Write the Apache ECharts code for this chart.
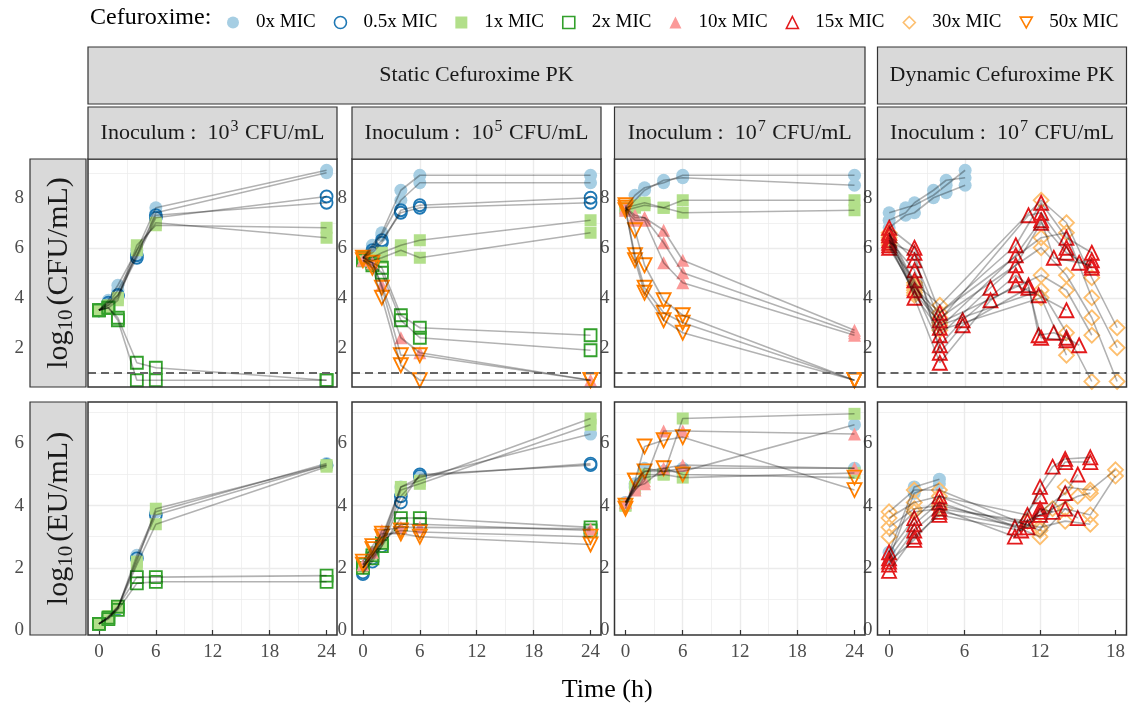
<!DOCTYPE html>
<html><head><meta charset="utf-8">
<script src="https://cdn.jsdelivr.net/npm/echarts@6/dist/echarts.min.js"></script>
<style>html,body{margin:0;padding:0;background:#fff}#c{width:1128px;height:706px}</style>
</head><body><div id="c"></div>
<script>
// ---------------- DATA ----------------
const concNames = ['0x MIC','0.5x MIC','1x MIC','2x MIC','10x MIC','15x MIC','30x MIC','50x MIC'];
const staticTimes = [0,1,2,4,6,24];
const xTicksStatic = [0,6,12,18,24];
const xTicksDynamic = [0,6,12,18];
const yTicksCfu = [2,4,6,8];
const yTicksEu = [0,2,4,6];
const loqLine = 1;

// Static, inoculum 10^3, log10 CFU/mL (one array per replicate, aligned with staticTimes)
const cfuA_0x  = [[3.5,3.9,4.5,5.9,7.6,9.1],[3.5,3.8,4.3,5.7,7.4,9.0]];
const cfuA_05x = [[3.5,3.8,4.1,5.6,7.2,8.05],[3.5,3.7,4.1,5.7,7.3,7.8]];
const cfuA_1x  = [[3.5,3.7,4.0,6.1,6.9,6.8],[3.5,3.6,3.9,5.9,7.0,6.4]];
const cfuA_2x  = [[3.5,3.6,3.2,1.4,1.2,0.7],[3.5,3.6,3.1,0.7,0.7,0.7]];
// Static, inoculum 10^5
const cfuB_0x  = [[5.6,6.1,6.6,8.3,8.9,8.9],[5.6,6.0,6.5,7.9,8.6,8.6]];
const cfuB_05x = [[5.6,5.9,6.3,7.4,7.6,7.8],[5.6,5.8,6.2,7.5,7.7,8.0]];
const cfuB_1x  = [[5.6,5.6,5.8,6.1,6.3,7.1],[5.6,5.5,5.6,5.9,5.6,6.6]];
const cfuB_2x  = [[5.6,5.4,5.2,3.3,2.8,2.5],[5.5,5.3,5.0,3.1,2.4,1.9]];
const cfuB_10x = [[5.5,5.4,4.5,2.4,1.8,0.7]];
const cfuB_50x = [[5.6,5.4,4.4,1.7,1.7,0.7],[5.5,5.2,4.0,1.3,0.7,0.7]];
// Static, inoculum 10^7
const cfuC_0x  = [[7.6,8.1,8.4,8.6,8.9,8.9],[7.5,7.9,8.3,8.7,8.8,8.5]];
const cfuC_1x  = [[7.6,7.7,7.8,7.6,7.9,7.9],[7.5,7.6,7.7,7.6,7.4,7.5]];
const cfuC_10x = [[7.6,7.2,7.2,6.7,5.5,2.7],[7.6,7.3,7.2,6.2,5.0,2.6],[7.5,7.1,7.1,5.4,4.6,2.5]];
const cfuC_50x = [[7.7,6.7,5.3,3.9,3.3,0.7],[7.5,5.7,4.4,3.4,3.0,0.7],[7.6,5.5,4.2,3.1,2.6,0.7]];
// Dynamic, inoculum 10^7 ([time, value] per replicate)
const cfuD_0x = [
  [[0,7.4],[1.3,7.6],[2,7.7],[3.5,8.1],[4.5,8.5],[6,9.1]],
  [[0,7.1],[1.3,7.4],[2,7.8],[3.5,8.3],[4.5,8.7],[6,8.8]],
  [[0,6.8],[1.3,7.3],[2,7.4],[3.5,8.0],[4.5,8.2],[6,8.5]]];
const cfuD_15x = [
  [[0,6.8],[2,6.0],[4,3.4],[10,6.1],[12,7.8],[14,6.4],[16,5.8]],
  [[0,6.5],[2,5.5],[4,3.1],[11,7.3],[12,7.4],[14,6.0],[15,5.4],[16,5.5]],
  [[0,6.3],[2,5.1],[4,2.8],[10,5.7],[12,7.1],[13,5.6],[16,5.3]],
  [[0,6.1],[2,4.7],[4,2.5],[8,4.4],[10,5.3],[12,7.0],[14,5.8],[16,5.2]],
  [[0,6.0],[2,4.3],[4,2.1],[5.8,3.1],[10,4.9],[11,4.5],[11.8,2.5],[13,2.6],[14,2.4],[15,2.1]],
  [[0,6.6],[2,4.0],[4,1.4],[8,3.9],[10,4.5],[11.8,4.1],[14,3.5]],
  [[0,6.2],[2,5.8],[4,1.8],[5.8,2.9],[11,4.4],[12,2.4],[14,2.3]]];
const cfuD_30x = [
  [[0,6.6],[2,4.6],[4,3.7],[12,7.9],[14,7.0],[16,4.8],[18,2.8]],
  [[0,6.4],[2,4.4],[4,3.4],[12,6.4],[14,6.6],[16,4.0],[18,2.0]],
  [[0,6.3],[2,4.3],[4,3.2],[12,6.0],[14,4.9],[16,3.2],[18,0.65]],
  [[0,6.1],[2,4.2],[4,3.0],[12,4.9],[14,4.3],[16,2.5]],
  [[0,6.5],[2,4.5],[4,2.9],[12,4.3],[14,2.6],[16,0.65]],
  [[0,6.2],[2,4.1],[4,2.7],[12,4.0],[14,1.7]]];

// Static, inoculum 10^3, log10 EU/mL
const euA_0x  = [[0.2,0.4,0.7,2.4,3.8,5.35]];
const euA_05x = [[0.2,0.4,0.7,2.3,3.7,5.3]];
const euA_1x  = [[0.2,0.45,0.75,2.2,3.9,5.3],[0.2,0.4,0.7,2.1,3.4,5.25]];
const euA_2x  = [[0.2,0.4,0.75,1.7,1.7,1.75],[0.2,0.35,0.65,1.5,1.55,1.55]];
// Static, inoculum 10^5
const euB_0x  = [[2.0,2.4,2.9,4.6,4.9,6.3]];
const euB_05x = [[1.8,2.3,2.8,4.3,4.95,5.35],[1.85,2.2,2.7,4.1,5.0,5.3]];
const euB_1x  = [[2.0,2.5,3.0,4.6,4.8,6.8],[2.0,2.4,2.8,4.5,4.7,6.6]];
const euB_2x  = [[2.1,2.3,2.7,3.6,3.6,3.3],[2.0,2.4,2.8,3.4,3.4,3.2]];
const euB_10x = [[2.1,2.5,3.2,3.3,3.3,3.25]];
const euB_50x = [[2.2,2.7,3.1,3.1,3.0,2.75],[2.1,2.6,3.0,3.2,3.15,3.0]];
// Static, inoculum 10^7
const euC_0x  = [[4.1,4.7,5.2,5.1,5.1,6.6],[4.1,4.6,5.1,5.1,5.2,5.2]];
const euC_1x  = [[4.0,4.6,5.0,5.0,6.8,6.95],[4.0,4.5,4.9,5.0,4.9,5.05]];
const euC_10x = [[4.1,4.5,4.8,6.4,6.4,6.3],[4.1,4.6,4.7,5.2,5.3,5.2]];
const euC_50x = [[4.0,4.8,5.9,6.1,6.2,4.5],[3.9,4.8,5.1,5.2,5.0,4.9]];
// Dynamic, inoculum 10^7
const euD_0x = [[[0,2.5],[2,4.6],[4,4.85]],[[0,2.3],[2,4.4],[4,4.7]]];
const euD_15x = [
  [[0,2.5],[2,3.6],[4,4.3],[11,3.7],[12,4.6],[13,5.25],[14,5.5],[16,5.55]],
  [[0,2.3],[2,3.4],[4,4.1],[10,3.3],[12,4.3],[14,5.4],[16,5.4]],
  [[0,2.1],[2,3.2],[4,3.9],[10,3.0],[11,3.5],[12,3.8],[14,4.4],[15,5.0]],
  [[0,1.9],[2,3.0],[4,3.7],[10.5,3.2],[12,3.7],[14,3.9],[15,3.6]],
  [[0,2.2],[2,2.9],[4,3.8],[11,3.3],[12,3.9],[13,3.8]]];
const euD_30x = [
  [[0,3.8],[2,4.5],[4,4.5],[12,3.2],[14,4.6],[16,4.5],[18,5.15]],
  [[0,3.6],[2,4.1],[4,4.3],[12,3.0],[14,3.9],[16,3.7],[18,4.95]],
  [[0,3.3],[2,3.9],[4,4.0],[12,3.3],[14,3.5],[16,3.4]],
  [[0,3.0],[2,3.8],[4,3.9],[11,3.5],[13,3.9],[15,4.3],[16,4.4]]];

// ---------------- LAYOUT / STYLE ----------------
const FF = "'Liberation Serif','Times New Roman',serif";
const cols = [[88,249],[352,249],[614.5,250.5],[877.5,249]];
const rows = [[159,228],[402,233]];
const xRangeStatic = [-1.15, 25.1];
const xRangeDynamic = [-0.92, 18.74];
const yRange = [[0.43, 9.55], [-0.16, 7.33]];

const cStyle = {
  '0x MIC':  {symbol:'circle', size:13, fill:'#A6CEE3'},
  '0.5x MIC':{symbol:'circle', size:12, stroke:'#1F78B4'},
  '1x MIC':  {symbol:'rect', size:12, fill:'#B2DF8A'},
  '2x MIC':  {symbol:'rect', size:12, stroke:'#33A02C'},
  '10x MIC': {symbol:'triangle', size:13, fill:'#FB9A99'},
  '15x MIC': {symbol:'triangle', size:14, stroke:'#E31A1C'},
  '30x MIC': {symbol:'diamond', size:15, stroke:'#FDBF6F'},
  '50x MIC': {symbol:'triangle', size:14, stroke:'#FF7F00', rotate:180}
};

const panels = [
  {r:0,c:0,dyn:false,sets:[['0x MIC',cfuA_0x],['0.5x MIC',cfuA_05x],['1x MIC',cfuA_1x],['2x MIC',cfuA_2x]]},
  {r:0,c:1,dyn:false,sets:[['0x MIC',cfuB_0x],['0.5x MIC',cfuB_05x],['1x MIC',cfuB_1x],['2x MIC',cfuB_2x],['10x MIC',cfuB_10x],['50x MIC',cfuB_50x]]},
  {r:0,c:2,dyn:false,sets:[['0x MIC',cfuC_0x],['1x MIC',cfuC_1x],['10x MIC',cfuC_10x],['50x MIC',cfuC_50x]]},
  {r:0,c:3,dyn:true, sets:[['0x MIC',cfuD_0x],['30x MIC',cfuD_30x],['15x MIC',cfuD_15x]]},
  {r:1,c:0,dyn:false,sets:[['0x MIC',euA_0x],['0.5x MIC',euA_05x],['1x MIC',euA_1x],['2x MIC',euA_2x]]},
  {r:1,c:1,dyn:false,sets:[['0x MIC',euB_0x],['0.5x MIC',euB_05x],['1x MIC',euB_1x],['2x MIC',euB_2x],['10x MIC',euB_10x],['50x MIC',euB_50x]]},
  {r:1,c:2,dyn:false,sets:[['0x MIC',euC_0x],['1x MIC',euC_1x],['10x MIC',euC_10x],['50x MIC',euC_50x]]},
  {r:1,c:3,dyn:true, sets:[['0x MIC',euD_0x],['30x MIC',euD_30x],['15x MIC',euD_15x]]}
];

const grids = [], xAxes = [], yAxes = [], series = [], graphics = [];
const gridLine = {color:'#EBEBEB', width:1.4};
const minorLine = {color:'#EBEBEB', width:0.7};

panels.forEach((p, gi) => {
  const [gl, gw] = cols[p.c];
  const [gt, gh] = rows[p.r];
  grids.push({left:gl, top:gt, width:gw, height:gh, containLabel:false});
  const bottom = p.r === 1;
  const xr = p.dyn ? xRangeDynamic : xRangeStatic;
  const xt = p.dyn ? xTicksDynamic : xTicksStatic;
  xAxes.push({
    type:'value', gridIndex:gi, min:xr[0], max:xr[1], minInterval:6, maxInterval:6,
    axisLine:{show:false},
    axisTick:{show:bottom, customValues:xt, length:5, lineStyle:{color:'#333', width:1.2}},
    axisLabel:{show:bottom, customValues:xt, margin:8, fontFamily:FF, fontSize:19, color:'#4D4D4D'},
    splitLine:{show:true, showMinLine:false, showMaxLine:false, lineStyle:gridLine},
    minorTick:{show:false, splitNumber:2},
    minorSplitLine:{show:true, lineStyle:minorLine}
  });
  const yt = p.r === 0 ? yTicksCfu : yTicksEu;
  yAxes.push({
    type:'value', gridIndex:gi, min:yRange[p.r][0], max:yRange[p.r][1], minInterval:2, maxInterval:2,
    axisLine:{show:false},
    axisTick:{show:false, customValues:yt},
    axisLabel:{show:true, customValues:yt, margin:p.c === 0 ? 64 : 5, fontFamily:FF, fontSize:19, color:'#4D4D4D'},
    splitLine:{show:true, showMinLine:false, showMaxLine:false, lineStyle:gridLine},
    minorTick:{show:false, splitNumber:2},
    minorSplitLine:{show:true, lineStyle:minorLine}
  });
  // points
  p.sets.forEach(([name, reps]) => {
    const st = cStyle[name];
    const pts = [];
    reps.forEach(rep => {
      if (p.dyn) rep.forEach(d => pts.push(d));
      else rep.forEach((v, i) => pts.push([staticTimes[i], v]));
    });
    series.push({
      type:'scatter', name, xAxisIndex:gi, yAxisIndex:gi, data:pts, z:2, silent:true,
      symbol:st.symbol, symbolSize:st.size, symbolRotate:st.rotate || 0,
      itemStyle: st.fill ? {color:st.fill, opacity:1} : {color:'rgba(0,0,0,0)', borderColor:st.stroke, borderWidth:1.8, opacity:1}
    });
  });
  // replicate lines
  let first = true;
  p.sets.forEach(([name, reps]) => {
    reps.forEach(rep => {
      const d = p.dyn ? rep : rep.map((v, i) => [staticTimes[i], v]);
      const s = {
        type:'line', name:'rep', xAxisIndex:gi, yAxisIndex:gi, data:d, z:3, silent:true,
        showSymbol:false, symbol:'none', lineStyle:{color:'rgba(0,0,0,0.3)', width:1.6}, animation:false
      };
      if (first && p.r === 0) {
        s.markLine = {silent:true, symbol:'none', label:{show:false}, animation:false,
          lineStyle:{type:[8,5], color:'#666', width:2.2}, data:[{yAxis:loqLine}]};
      }
      first = false;
      series.push(s);
    });
  });
  // panel border
  graphics.push({type:'rect', z:100, shape:{x:gl, y:gt, width:gw, height:gh},
    style:{fill:'none', stroke:'#333', lineWidth:1.5}});
});

// strips
function strip(x, y, w, h, textOpt) {
  graphics.push({type:'rect', z:100, shape:{x, y, width:w, height:h},
    style:{fill:'#D9D9D9', stroke:'#333', lineWidth:1.2}});
  graphics.push(Object.assign({type:'text', z:101}, textOpt));
}
const stripTop = [47, 57];
const stripInoc = [107, 52];
const staticLeft = cols[0][0], staticRight = cols[2][0] + cols[2][1];
strip(staticLeft, stripTop[0], staticRight - staticLeft, stripTop[1],
  {x:(staticLeft+staticRight)/2, y:stripTop[0]+stripTop[1]/2,
   style:{text:'Static Cefuroxime PK', fontFamily:FF, fontSize:22, fill:'#1A1A1A', align:'center', verticalAlign:'middle'}});
strip(cols[3][0], stripTop[0], cols[3][1], stripTop[1],
  {x:cols[3][0]+cols[3][1]/2, y:stripTop[0]+stripTop[1]/2,
   style:{text:'Dynamic Cefuroxime PK', fontFamily:FF, fontSize:22, fill:'#1A1A1A', align:'center', verticalAlign:'middle'}});
const inocExp = ['3','5','7','7'];
const richInoc = {
  n:{fontFamily:FF, fontSize:22, fill:'#1A1A1A'},
  sup:{fontFamily:FF, fontSize:16, fill:'#1A1A1A', padding:[0,1,12,1]}
};
cols.forEach((cw, i) => {
  strip(cw[0], stripInoc[0], cw[1], stripInoc[1],
    {x:cw[0]+cw[1]/2, y:stripInoc[0]+stripInoc[1]/2,
     style:{text:'{n|Inoculum :  10}{sup|' + inocExp[i] + '}{n| CFU/mL}', rich:richInoc,
            align:'center', verticalAlign:'middle', fontFamily:FF, fontSize:22}});
});
const richLog = {
  n:{fontFamily:FF, fontSize:30, fill:'#1A1A1A'},
  sub:{fontFamily:FF, fontSize:21, fill:'#1A1A1A', padding:[15,4,0,0]}
};
const leftStrip = [30, 56];
['CFU/mL','EU/mL'].forEach((u, r) => {
  const [rt, rh] = rows[r];
  strip(leftStrip[0], rt, leftStrip[1], rh,
    {x:leftStrip[0]+leftStrip[1]/2 + 1, y:rt+rh/2, rotation:Math.PI/2,
     style:{text:'{n|log}{sub|10}{n|(' + u + ')}', rich:richLog, align:'center', verticalAlign:'middle', fontFamily:FF, fontSize:30}});
});
// titles
graphics.push({type:'text', z:101, x:90, y:18,
  style:{text:'Cefuroxime:', fontFamily:FF, fontSize:24, fill:'#000', align:'left', verticalAlign:'middle'}});
graphics.push({type:'text', z:101, x:(cols[0][0] + cols[3][0] + cols[3][1]) / 2, y:690,
  style:{text:'Time (h)', fontFamily:FF, fontSize:26, fill:'#000', align:'center', verticalAlign:'middle'}});

const legendData = concNames.map(n => {
  const st = cStyle[n];
  let icon = st.symbol;
  if (st.rotate) icon = 'path://M0,0 L10,0 L5,9 Z';
  return {name:n, icon,
    itemStyle: st.fill ? {color:st.fill, borderWidth:0} : {color:'rgba(0,0,0,0)', borderColor:st.stroke, borderWidth:1.6}};
});

const chart = echarts.init(document.getElementById('c'), null, {renderer:'canvas'});
chart.setOption({
  animation:false,
  backgroundColor:'#fff',
  grid:grids, xAxis:xAxes, yAxis:yAxes, series,
  legend:{show:true, left:222, top:8, itemGap:18, itemWidth:12, itemHeight:12, selectedMode:false,
    textStyle:{fontFamily:FF, fontSize:19, color:'#000', padding:[0,0,0,12]}, data:legendData},
  graphic:{elements:graphics}
});
</script></body></html>
